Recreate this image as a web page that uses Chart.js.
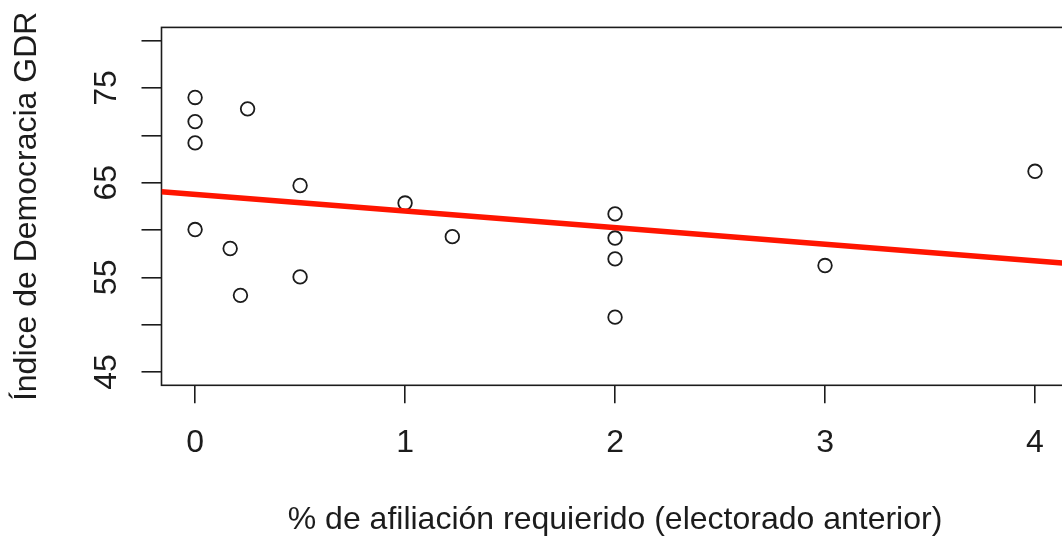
<!DOCTYPE html>
<html>
<head>
<meta charset="utf-8">
<script src="https://cdn.jsdelivr.net/npm/chart.js@4/dist/chart.umd.min.js"></script>
<style>
  html, body { margin: 0; padding: 0; background: #fff; overflow: hidden; }
  #wrap { width: 1080px; height: 543px; }
</style>
</head>
<body>
<div id="wrap"><canvas id="gdrChart"></canvas></div>
<script>
// data
const afiliacion = [0, 0, 0, 0, 0.167, 0.216, 0.25, 0.5, 0.5, 1, 1.225, 2, 2, 2, 2, 3, 4];
const democracia = [74.0, 71.45, 69.2, 60.05, 58.05, 53.1, 72.8, 64.7, 55.05, 62.85, 59.3, 61.7, 59.15, 56.95, 50.8, 56.25, 66.2];

// fitted line (abline), read at the two plot edges
const fitX = [-0.16, 4.16];
const fitY = [64.03, 56.47];

const xTicks = [0, 1, 2, 3, 4];
const yTicks = [45, 50, 55, 60, 65, 70, 75, 80];
const yTickLabels = ["45", "", "55", "", "65", "", "75", ""];

const FONT = "'Liberation Sans', Arial, Helvetica, sans-serif";
const INK = "#1c1c1c";

// R style box around the plot region
const boxPlugin = {
  id: "box",
  beforeDatasetsDraw(chart) {
    const { ctx, chartArea: a } = chart;
    ctx.save();
    ctx.strokeStyle = INK;
    ctx.lineWidth = 1.6;
    ctx.strokeRect(a.left, a.top, a.right - a.left, a.bottom - a.top);
    ctx.restore();
  }
};

const ctx = document.getElementById("gdrChart").getContext("2d");
new Chart(ctx, {
  type: "scatter",
  data: {
    datasets: [
      {
        type: "line",
        label: "ajuste",
        data: fitX.map((x, i) => ({ x, y: fitY[i] })),
        borderColor: "#ff1500",
        borderWidth: 5.5,
        pointRadius: 0,
        fill: false,
        order: 0
      },
      {
        label: "datos",
        data: afiliacion.map((x, i) => ({ x, y: democracia[i] })),
        pointStyle: "circle",
        pointRadius: 6.8,
        pointBorderWidth: 1.8,
        borderColor: INK,
        backgroundColor: "rgba(0,0,0,0)",
        order: 1
      }
    ]
  },
  options: {
    responsive: true,
    maintainAspectRatio: false,
    animation: false,
    layout: { padding: { top: 27.4, right: 11.4, bottom: 0, left: 0 } },
    plugins: { legend: { display: false }, tooltip: { enabled: false } },
    scales: {
      x: {
        type: "linear",
        min: -0.16,
        max: 4.16,
        afterBuildTicks: s => { s.ticks = xTicks.map(v => ({ value: v })); },
        afterFit: s => { s.height = 157.7; s.paddingLeft = 0; s.paddingRight = 0; },
        border: { display: false },
        grid: { drawOnChartArea: false, drawTicks: true, tickLength: 18, tickColor: INK, lineWidth: 1.6 },
        ticks: {
          color: INK, padding: 21, maxRotation: 0, autoSkip: false,
          font: { family: FONT, size: 32 },
          callback: v => String(v)
        },
        title: {
          display: true,
          text: "% de afiliación requierido (electorado anterior)",
          color: INK,
          font: { family: FONT, size: 32 },
          padding: { top: 0, bottom: 3.8 }
        }
      },
      y: {
        type: "linear",
        min: 43.6,
        max: 81.4,
        afterBuildTicks: s => { s.ticks = yTicks.map(v => ({ value: v })); },
        afterFit: s => { s.width = 161.5; s.paddingTop = 0; s.paddingBottom = 0; },
        border: { display: false },
        grid: { drawOnChartArea: false, drawTicks: true, tickLength: 20, tickColor: INK, lineWidth: 1.6 },
        ticks: {
          color: INK, padding: 16.7, minRotation: 90, maxRotation: 90, autoSkip: false,
          crossAlign: "center",
          font: { family: FONT, size: 32 },
          callback: (v, i) => yTickLabels[i]
        },
        title: {
          display: true,
          text: "Índice de Democracia GDR",
          color: INK,
          font: { family: FONT, size: 32 },
          padding: { top: 7.8, bottom: 0 }
        }
      }
    }
  },
  plugins: [boxPlugin]
});
</script>
</body>
</html>
